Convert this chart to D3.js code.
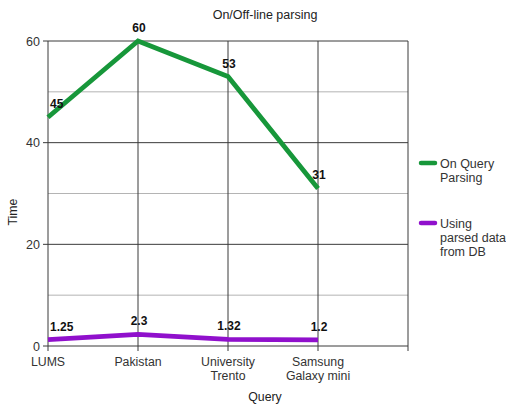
<!DOCTYPE html>
<html><head><meta charset="utf-8">
<script src="https://cdn.jsdelivr.net/npm/d3@7"></script>
<style>body{margin:0;background:#fff}svg{display:block;font-family:"Liberation Sans",Arial,sans-serif}</style>
</head><body><svg id="c" width="506" height="405"></svg>
<script>
const categories = [["LUMS"], ["Pakistan"], ["University", "Trento"], ["Samsung", "Galaxy mini"]];
const onQuery = [45, 60, 53, 31];
const onQueryLabels = ["45", "60", "53", "31"];
const fromDB = [1.25, 2.3, 1.32, 1.2];
const fromDBLabels = ["1.25", "2.3", "1.32", "1.2"];
const yTicks = [0, 20, 40, 60];
const yMinor = [10, 30, 50];

const svg = d3.select("#c");
const x = d3.scaleLinear().domain([0, 4]).range([48, 408]);
const y = d3.scaleLinear().domain([0, 60]).range([346, 41]);

// minor grid
svg.selectAll(".minor").data(yMinor).join("line")
  .attr("x1", 48).attr("x2", 408).attr("y1", d => y(d)).attr("y2", d => y(d))
  .attr("stroke", "#b4b4b4").attr("stroke-width", 1);
// major grid
svg.selectAll(".major").data(yTicks).join("line")
  .attr("x1", 43).attr("x2", 408).attr("y1", d => y(d)).attr("y2", d => y(d))
  .attr("stroke", "#3a3a3a").attr("stroke-width", 1);
// vertical lines
svg.selectAll(".vline").data(d3.range(5)).join("line")
  .attr("x1", d => x(d)).attr("x2", d => x(d)).attr("y1", y(60)).attr("y2", y(0) + 5)
  .attr("stroke", "#3a3a3a").attr("stroke-width", 1);

// y tick labels
svg.selectAll(".yl").data(yTicks).join("text")
  .attr("x", 40).attr("y", d => y(d) + 4.5).attr("text-anchor", "end")
  .attr("font-size", 12.5).attr("fill", "#333").text(d => d);

// x labels
categories.forEach((lines, i) => {
  const t = svg.append("text").attr("text-anchor", "middle").attr("font-size", 12.3).attr("fill", "#333");
  lines.forEach((l, j) => t.append("tspan").attr("x", x(i)).attr("y", 366 + j * 14).text(l));
});

// titles
svg.append("text").attr("x", 265).attr("y", 19).attr("text-anchor", "middle")
  .attr("font-size", 12.5).attr("fill", "#222").text("On/Off-line parsing");
svg.append("text").attr("x", 265).attr("y", 401).attr("text-anchor", "middle")
  .attr("font-size", 12.3).attr("fill", "#222").text("Query");
svg.append("text").attr("transform", "translate(17,212) rotate(-90)").attr("text-anchor", "middle")
  .attr("font-size", 12.3).attr("fill", "#222").text("Time");

const line = d3.line().x((d, i) => x(i)).y(d => y(d));
const green = "#17973a", purple = "#9010cc";
svg.append("path").datum(onQuery).attr("d", line).attr("fill", "none")
  .attr("stroke", green).attr("stroke-width", 4.8).attr("stroke-linejoin", "miter");
svg.append("path").datum(fromDB).attr("d", line).attr("fill", "none")
  .attr("stroke", purple).attr("stroke-width", 4.8);

function labels(vals, txt) {
  svg.append("g").selectAll("text").data(vals).join("text")
    .attr("x", (d, i) => i === 0 ? x(i) + 2 : x(i) + 1)
    .attr("y", d => y(d) - 9)
    .attr("text-anchor", (d, i) => i === 0 ? "start" : "middle")
    .attr("font-size", 12).attr("font-weight", "bold").attr("fill", "#111")
    .text((d, i) => txt[i]);
}
labels(onQuery, onQueryLabels);
labels(fromDB, fromDBLabels);

// legend
const legend = [
  {c: green, lines: ["On Query", "Parsing"], y: 163},
  {c: purple, lines: ["Using", "parsed data", "from DB"], y: 223}
];
legend.forEach(L => {
  svg.append("line").attr("x1", 421).attr("x2", 435).attr("y1", L.y).attr("y2", L.y)
    .attr("stroke", L.c).attr("stroke-width", 4.5).attr("stroke-linecap", "round");
  const t = svg.append("text").attr("font-size", 12.5).attr("fill", "#333");
  L.lines.forEach((l, j) => t.append("tspan").attr("x", 440).attr("y", L.y + 4.5 + j * 14).text(l));
});
</script></body></html>
